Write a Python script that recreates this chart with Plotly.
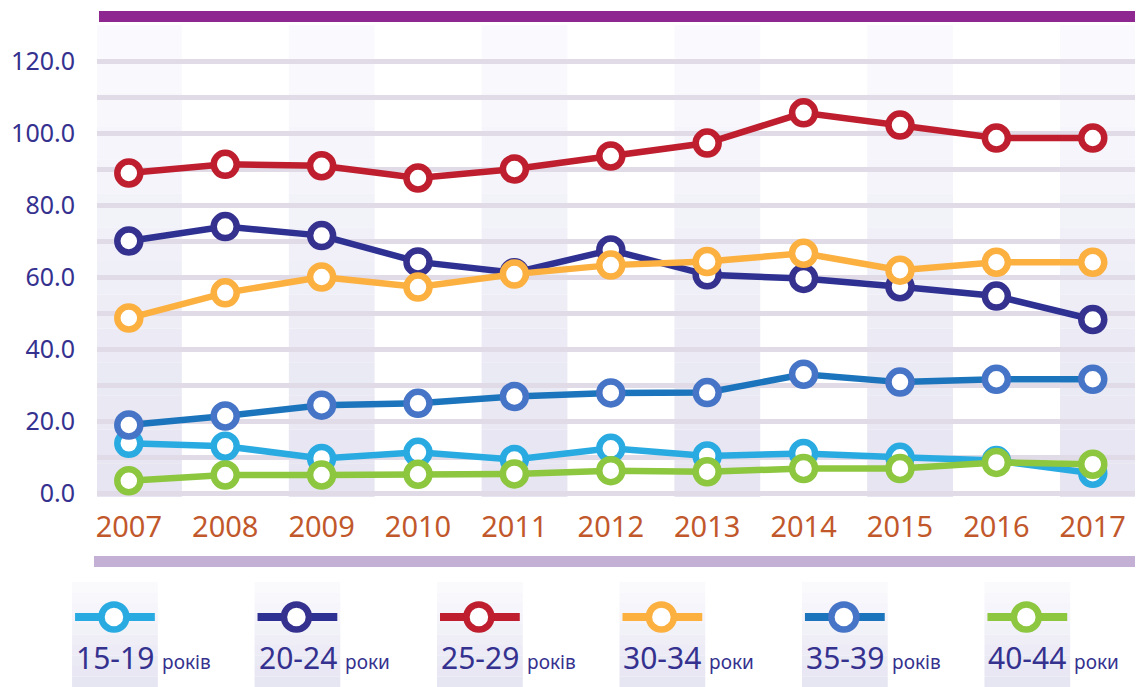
import plotly.graph_objects as go

# data
years = [2007, 2008, 2009, 2010, 2011, 2012, 2013, 2014, 2015, 2016, 2017]
age_groups = ["15-19", "20-24", "25-29", "30-34", "35-39", "40-44"]
age_suffix = ["років", "роки", "років", "роки", "років", "роки"]

v_15_19 = [13.8, 13.0, 9.6, 11.3, 9.3, 12.4, 10.3, 11.0, 9.9, 9.0, 5.5]
v_20_24 = [70.0, 74.0, 71.5, 64.2, 61.2, 67.5, 60.6, 59.6, 57.3, 54.7, 48.2]
v_25_29 = [88.9, 91.3, 90.9, 87.5, 90.0, 93.6, 97.2, 105.6, 102.2, 98.6, 98.6]
v_30_34 = [48.6, 55.6, 60.0, 57.2, 60.8, 63.3, 64.3, 66.6, 61.9, 64.1, 64.1]
v_35_39 = [18.9, 21.4, 24.4, 24.9, 26.8, 27.8, 27.9, 33.0, 30.8, 31.6, 31.6]
v_40_44 = [3.4, 5.0, 5.0, 5.2, 5.3, 6.2, 5.9, 6.8, 6.8, 8.5, 8.0]
series = [v_15_19, v_20_24, v_25_29, v_30_34, v_35_39, v_40_44]

line_colors = ["#29ABE2", "#2E3192", "#BE1E2D", "#FBB040", "#1C75BC", "#8DC63F"]
ring_colors = ["#29ABE2", "#35318F", "#BE1E2D", "#FBB040", "#4674C6", "#8DC63F"]

NAVY = "#35318F"
RUST = "#C1582B"
FONT = "Noto Sans"

# the page adds an 8px body margin, so the figure is a bit smaller than the window
OFF = 8
W, H = 1143 - OFF, 687 - OFF
# plot area in window pixels: x 94..1140, y 25..497
L, R, T, B = 94 - OFF, 3, 25 - OFF, 190
PW, PH = W - L - R, H - T - B


def px(x):
    # window x pixel -> paper
    return (x - OFF - L) / PW


def py(y):
    # window y pixel -> paper
    return (T + PH - (y - OFF)) / PH


def gradient(x0, x1, y0, y1, xref, yref, n=10):
    # vertical fade: near white at the top, lavender at the bottom
    top, bot = (251, 251, 254), (229, 228, 241)
    out = []
    for i in range(n):
        t = (i + 0.5) / n
        c = tuple(round(top[k] + (bot[k] - top[k]) * t) for k in range(3))
        ya = y0 + (y1 - y0) * i / n
        yb = y0 + (y1 - y0) * (i + 1) / n
        out.append(dict(type="rect", xref=xref, yref=yref, x0=x0, x1=x1,
                        y0=ya, y1=yb, fillcolor="rgb(%d,%d,%d)" % c,
                        line_width=0, layer="below"))
    return out


fig = go.Figure()

for name, vals, lc, rc in zip(age_groups, series, line_colors, ring_colors):
    fig.add_trace(go.Scatter(
        x=years, y=vals, name=name, mode="lines+markers",
        line=dict(color=lc, width=6.5),
        marker=dict(size=23, color="white", line=dict(color=rc, width=6.5)),
    ))

shapes = []
# shaded columns behind every other year
for yr in years[::2]:
    shapes += gradient(yr - 0.34, min(yr + 0.55, 2017.49), 1, 0, "x", "paper", n=14)

# top and bottom bars
shapes.append(dict(type="rect", xref="paper", yref="paper", x0=px(96), x1=px(1143),
                   y0=py(22), y1=py(11), fillcolor="#8E278F", line_width=0))
shapes.append(dict(type="rect", xref="paper", yref="paper", x0=px(91), x1=px(1143),
                   y0=py(567), y1=py(556), fillcolor="#C4B0D5", line_width=0))

annotations = []
for i, (name, suf, lc, rc) in enumerate(zip(age_groups, age_suffix, line_colors, ring_colors)):
    left = 69 + i * 183
    shapes += gradient(px(left), px(left + 86), py(582), py(687), "paper", "paper", n=10)
    shapes.append(dict(type="line", xref="paper", yref="paper",
                       x0=px(left + 3), x1=px(left + 83), y0=py(617), y1=py(617),
                       line=dict(color=lc, width=8)))
    shapes.append(dict(type="circle", xref="paper", yref="paper",
                       xsizemode="pixel", ysizemode="pixel",
                       xanchor=px(left + 42), yanchor=py(617),
                       x0=-12.5, x1=12.5, y0=-12.5, y1=12.5,
                       fillcolor="white", line=dict(color=rc, width=6.5)))
    annotations.append(dict(
        xref="paper", yref="paper", x=px(left + 2), y=py(657),
        xanchor="left", yanchor="middle", showarrow=False,
        text=name + " <span style='font-size:19px'>" + suf + "</span>",
        font=dict(family=FONT, size=30, color=NAVY),
    ))

fig.update_layout(
    width=W, height=H,
    margin=dict(l=L, r=R, t=T, b=B),
    paper_bgcolor="white", plot_bgcolor="rgba(0,0,0,0)",
    showlegend=False,
    shapes=shapes,
    annotations=annotations,
    font=dict(family=FONT),
)

fig.update_xaxes(
    range=[2006.67, 2017.49], tickvals=years, showgrid=False, zeroline=False,
    tickfont=dict(family=FONT, size=29, color=RUST), ticklabelstandoff=10,
)
fig.update_yaxes(
    range=[-1.11, 130], tickvals=[0, 20, 40, 60, 80, 100, 120], tickformat=".1f",
    showgrid=True, gridcolor="#E1DAE7", gridwidth=5, zeroline=False,
    minor=dict(dtick=10, showgrid=True, gridcolor="#E1DAE7", gridwidth=5),
    tickfont=dict(family=FONT, size=25, color=NAVY), ticklabelstandoff=21,
)

fig.write_html("out.html")
